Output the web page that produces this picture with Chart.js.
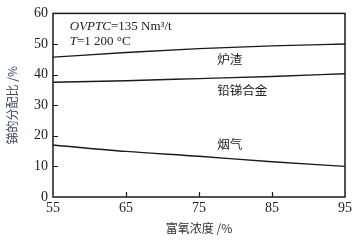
<!DOCTYPE html>
<html>
<head>
<meta charset="utf-8">
<script src="https://cdn.jsdelivr.net/npm/chart.js@4/dist/chart.umd.min.js"></script>
<style>
  html, body { margin: 0; padding: 0; background: #fff; }
  #wrap { width: 355px; height: 241px; }
</style>
</head>
<body>
<div id="wrap"><canvas id="chart" width="355" height="241"></canvas></div>
<script>
const oxygen = [55, 65, 75, 85, 95];
const slag = [45.7, 47.2, 48.5, 49.4, 50.0];
const alloy = [37.5, 38.0, 38.7, 39.4, 40.3];
const fume = [17.0, 14.9, 13.3, 11.5, 10.0];

const seriesLabels = [
  { text: '炉渣', x: 77.5, y: 45.1 },
  { text: '铅锑合金', x: 77.5, y: 35.0 },
  { text: '烟气', x: 77.5, y: 17.2 }
];
const yTicksInner = [10, 20, 30, 40, 50];
const xTicksInner = [65, 75, 85];

const serif = '"Liberation Serif", "DejaVu Serif", serif';
const cjk = '"Noto Sans CJK SC", sans-serif';

const toPoints = (ys) => oxygen.map((x, i) => ({ x, y: ys[i] }));

const lineStyle = {
  borderColor: '#1a1a1a',
  borderWidth: 1.4,
  pointRadius: 0,
  fill: false,
  cubicInterpolationMode: 'monotone'
};

// frame, inward ticks and text notes
const decor = {
  id: 'decor',
  afterDraw(chart) {
    const { ctx, chartArea: a, scales: { x, y } } = chart;
    ctx.save();
    ctx.strokeStyle = '#1a1a1a';
    ctx.lineWidth = 1.5;
    ctx.strokeRect(a.left, a.top, a.right - a.left, a.bottom - a.top);

    ctx.lineWidth = 1.2;
    ctx.beginPath();
    yTicksInner.forEach((v) => {
      const py = Math.round(y.getPixelForValue(v)) + 0.5;
      ctx.moveTo(a.left, py);
      ctx.lineTo(a.left + 5, py);
    });
    xTicksInner.forEach((v) => {
      const px = Math.round(x.getPixelForValue(v)) + 0.5;
      ctx.moveTo(px, a.bottom);
      ctx.lineTo(px, a.bottom - 5);
    });
    ctx.stroke();

    ctx.fillStyle = '#222';
    ctx.textBaseline = 'middle';
    ctx.textAlign = 'left';
    ctx.font = '12.5px ' + cjk;
    seriesLabels.forEach((l) => {
      ctx.fillText(l.text, x.getPixelForValue(l.x), y.getPixelForValue(l.y));
    });

    // operating conditions
    let px = x.getPixelForValue(57.3);
    let py = y.getPixelForValue(55.8);
    ctx.font = 'italic 13px ' + serif;
    ctx.fillText('OVPTC', px, py);
    px += ctx.measureText('OVPTC').width;
    ctx.font = '13px ' + serif;
    ctx.fillText('=135 Nm³/t', px, py);

    px = x.getPixelForValue(57.3);
    py = y.getPixelForValue(50.9);
    ctx.font = 'italic 13px ' + serif;
    ctx.fillText('T', px, py);
    px += ctx.measureText('T').width;
    ctx.font = '13px ' + serif;
    ctx.fillText('=1 200 °C', px, py);
    ctx.restore();
  }
};

new Chart(document.getElementById('chart'), {
  type: 'line',
  data: {
    datasets: [
      { label: '炉渣', data: toPoints(slag), ...lineStyle },
      { label: '铅锑合金', data: toPoints(alloy), ...lineStyle },
      { label: '烟气', data: toPoints(fume), ...lineStyle }
    ]
  },
  options: {
    responsive: false,
    animation: false,
    layout: { padding: { left: 0, right: 10, top: 12, bottom: 0 } },
    plugins: { legend: { display: false }, tooltip: { enabled: false } },
    scales: {
      x: {
        type: 'linear',
        min: 55,
        max: 95,
        afterFit: (s) => { s.height = 44; },
        ticks: { stepSize: 10, padding: 3, color: '#1a1a2a', font: { family: serif, size: 14 } },
        grid: { drawOnChartArea: false, drawTicks: false },
        border: { display: false },
        title: {
          display: true,
          text: '富氧浓度 /%',
          color: '#333',
          font: { family: cjk, size: 12 },
          padding: { bottom: 5 }
        }
      },
      y: {
        min: 0,
        max: 60,
        afterFit: (s) => { s.width = 53; },
        ticks: { stepSize: 10, padding: 5, color: '#1a1a2a', font: { family: serif, size: 14 } },
        grid: { drawOnChartArea: false, drawTicks: false },
        border: { display: false },
        title: {
          display: true,
          text: '锑的分配比 /%',
          color: '#3a4660',
          font: { family: cjk, size: 12 },
          padding: { top: 5 }
        }
      }
    }
  },
  plugins: [decor]
});
</script>
</body>
</html>
